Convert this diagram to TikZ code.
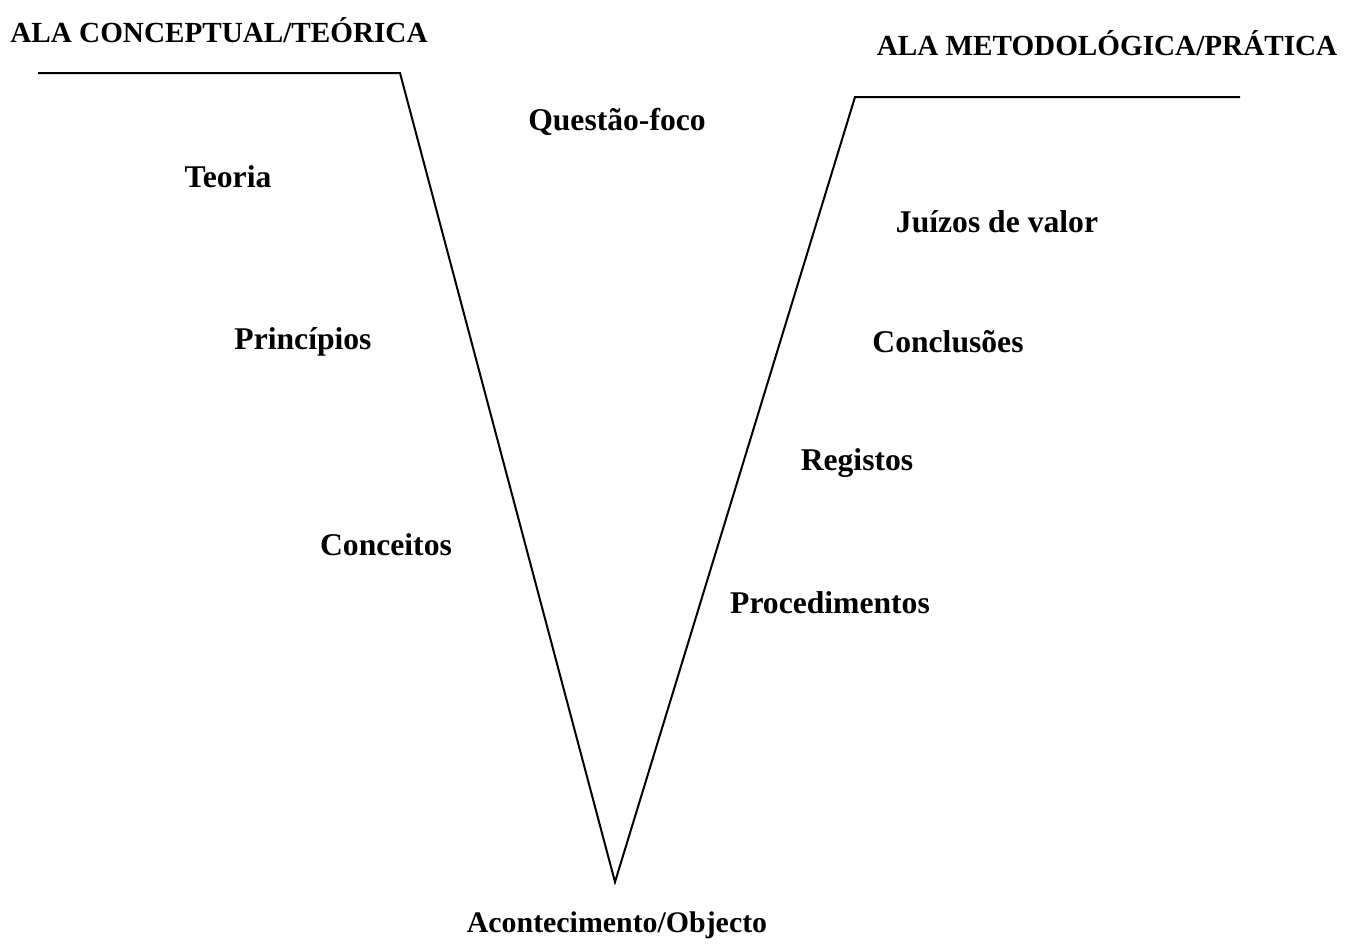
\documentclass[tikz,border=0pt]{standalone}
\usepackage{fontspec}
\setmainfont{Liberation Serif}
\usetikzlibrary{positioning}

\begin{document}
\begin{tikzpicture}[x=0.02cm, y=-0.02cm, line width=0.04cm,
            every node/.style={font=\fontsize{18}{21}\selectfont\bfseries, inner sep=0pt},
            heading/.style={font=\fontsize{16.6}{20}\selectfont\bfseries}]
            \useasboundingbox (0,0) rectangle (1345,950);

            % The V
            \coordinate (LT) at (38,73);
            \coordinate (LC) at (400,73);
            \coordinate (V) at (615,882);
            \coordinate (RC) at (855,97);
            \coordinate (RT) at (1240,97);
            \draw (LT) -- (LC) -- (V) -- (RC) -- (RT);

            % Headings of the two sides
            \node[heading] (conc) at (219,30) {ALA CONCEPTUAL/TEÓRICA};
            \node[heading] (met) at (1107,43) {ALA METODOLÓGICA/PRÁTICA};

            % Middle
            \node (questao) at (617,122) {Questão-foco};
            \node[font=\fontsize{17}{20}\selectfont\bfseries] (acont) at (617,925) {Acontecimento/Objecto};

            % Left side
            \node (teoria) at (228,177) {Teoria};
            \node (princ) at (303,342) {Princípios};
            \node (conceitos) at (386,545) {Conceitos};

            % Right side
            \node (juizos) at (997,222) {Juízos de valor};
            \node (concl) at (948,342) {Conclusões};
            \node (registos) at (857,463) {Registos};
            \node (proced) at (830,603) {Procedimentos};

        \end{tikzpicture}
\end{document}
